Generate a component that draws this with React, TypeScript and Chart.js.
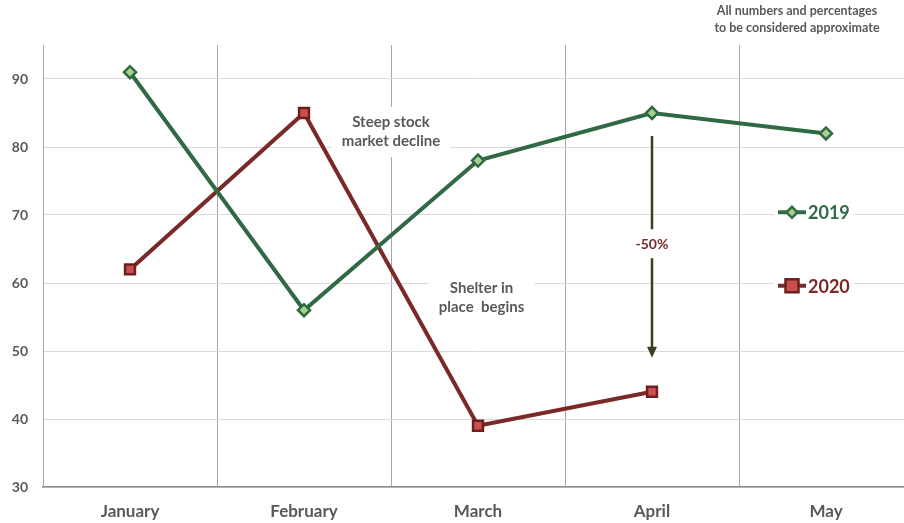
import React, { useEffect, useRef } from "react";
import { Chart, registerables } from "chart.js";

Chart.register(...registerables);

// Monthly index values
const months = ["January", "February", "March", "April", "May"];
const values2019 = [91, 56, 78, 85, 82];
const values2020: (number | null)[] = [62, 85, 39, 44, null];
const yTickValues = [30, 40, 50, 60, 70, 80, 90];

// Text shown on the chart
const seriesNames = ["2019", "2020"];
const noteSteep = ["Steep stock", "market decline"];
const noteShelter = ["Shelter in", "place  begins"];
const dropLabel = "-50%";
const disclaimer = ["All numbers and percentages", "to be considered approximate"];

const GREEN = "#2f6a45";
const GREEN_FILL = "#a9d18e";
const RED = "#7b2828";
const RED_FILL = "#c9504c";
const RED_BORDER = "#6d1f1f";
const TEXT_GRAY = "#595959";
const FONT = "Lato, 'Open Sans', sans-serif";

const CANVAS_W = 913;
const CANVAS_H = 523;

const overlayPlugin = {
  id: "overlay",
  beforeDatasetsDraw(chart: any) {
    const { ctx, scales, chartArea } = chart;
    const x = scales.x;
    const y = scales.y;

    const textBlock = (lines: string[], cx: number, cy: number, size: number, color: string, lh: number, padX: number, padY: number) => {
      ctx.save();
      ctx.font = `bold ${size}px ${FONT}`;
      const w = Math.max(...lines.map((l) => ctx.measureText(l).width));
      const h = lh * lines.length;
      ctx.fillStyle = "#ffffff";
      ctx.fillRect(cx - w / 2 - padX, cy - h / 2 - padY, w + padX * 2, h + padY * 2);
      ctx.fillStyle = color;
      ctx.textAlign = "center";
      ctx.textBaseline = "middle";
      lines.forEach((l, i) => ctx.fillText(l, cx, cy - h / 2 + lh * (i + 0.5)));
      ctx.restore();
    };

    // Event notes
    textBlock(noteSteep, x.getPixelForValue(1.5), y.getPixelForValue(82.2), 15, TEXT_GRAY, 19, 10, 6);
    textBlock(noteShelter, x.getPixelForValue(2.02), y.getPixelForValue(57.8), 15, TEXT_GRAY, 19, 10, 4);

    // Drop arrow in April, 2019 level down to 2020 level
    const ax = x.getPixelForValue(3);
    const yTop = y.getPixelForValue(values2019[3] as number) + 23;
    const yBot = y.getPixelForValue(values2020[3] as number) - 34;
    const labelY = y.getPixelForValue(65.7);
    ctx.save();
    ctx.strokeStyle = "#3d3d25";
    ctx.fillStyle = "#3d3d25";
    ctx.lineWidth = 2.5;
    ctx.beginPath();
    ctx.moveTo(ax, yTop);
    ctx.lineTo(ax, labelY - 15);
    ctx.moveTo(ax, labelY + 14);
    ctx.lineTo(ax, yBot - 10);
    ctx.stroke();
    ctx.beginPath();
    ctx.moveTo(ax - 5, yBot - 11);
    ctx.lineTo(ax + 5, yBot - 11);
    ctx.lineTo(ax, yBot);
    ctx.closePath();
    ctx.fill();
    ctx.restore();
    textBlock([dropLabel], ax, labelY, 14, RED, 16, 2, 2);

    // Legend entries on the right
    const lx = chartArea.right - 135;
    const items = [
      { name: seriesNames[0], line: GREEN, fill: GREEN_FILL, border: GREEN, style: "rectRot", r: 5.5, yv: 70.4 },
      { name: seriesNames[1], line: RED, fill: RED_FILL, border: RED_BORDER, style: "rect", r: 6.5, yv: 59.6 },
    ];
    items.forEach((it) => {
      const cy = y.getPixelForValue(it.yv);
      ctx.save();
      ctx.font = `bold 18px ${FONT}`;
      const tw = ctx.measureText(it.name).width;
      ctx.fillStyle = "#ffffff";
      ctx.fillRect(lx - 4, cy - 12, 30 + tw + 8, 24);
      ctx.strokeStyle = it.line;
      ctx.lineWidth = 4;
      ctx.beginPath();
      ctx.moveTo(lx, cy);
      ctx.lineTo(lx + 28, cy);
      ctx.stroke();
      ctx.fillStyle = it.fill;
      ctx.strokeStyle = it.border;
      ctx.lineWidth = 2.5;
      ctx.beginPath();
      if (it.style === "rectRot") {
        const c = lx + 14;
        ctx.moveTo(c, cy - it.r);
        ctx.lineTo(c + it.r, cy);
        ctx.lineTo(c, cy + it.r);
        ctx.lineTo(c - it.r, cy);
        ctx.closePath();
      } else {
        ctx.rect(lx + 14 - it.r, cy - it.r, it.r * 2, it.r * 2);
      }
      ctx.fill();
      ctx.stroke();
      ctx.fillStyle = it.line;
      ctx.textAlign = "left";
      ctx.textBaseline = "middle";
      ctx.fillText(it.name, lx + 30, cy + 1);
      ctx.restore();
    });
  },
  afterDraw(chart: any) {
    const { ctx } = chart;
    ctx.save();
    ctx.font = `bold 12.5px ${FONT}`;
    ctx.fillStyle = TEXT_GRAY;
    ctx.textAlign = "center";
    ctx.textBaseline = "middle";
    disclaimer.forEach((l, i) => ctx.fillText(l, 797, 11 + i * 17));
    ctx.restore();
  },
};

export default function App() {
  const canvasRef = useRef<HTMLCanvasElement | null>(null);

  useEffect(() => {
    if (!canvasRef.current) return;
    const chart = new Chart(canvasRef.current, {
      type: "line",
      data: {
        labels: months,
        datasets: [
          {
            label: seriesNames[0],
            data: values2019,
            borderColor: GREEN,
            borderWidth: 4,
            pointStyle: "rectRot",
            pointRadius: 6,
            pointBackgroundColor: GREEN_FILL,
            pointBorderColor: GREEN,
            pointBorderWidth: 2.5,
            tension: 0,
          },
          {
            label: seriesNames[1],
            data: values2020,
            borderColor: RED,
            borderWidth: 4,
            pointStyle: "rect",
            pointRadius: 7,
            pointBackgroundColor: RED_FILL,
            pointBorderColor: RED_BORDER,
            pointBorderWidth: 2.5,
            tension: 0,
            spanGaps: false,
          },
        ],
      },
      options: {
        animation: false,
        responsive: false,
        devicePixelRatio: 1,
        layout: { autoPadding: false, padding: { top: 45, left: 0, right: 0, bottom: 0 } },
        plugins: { legend: { display: false }, tooltip: { enabled: false } },
        scales: {
          x: {
            type: "category",
            offset: true,
            afterFit: (s: any) => {
              s.height = 36;
            },
            grid: { offset: true, color: "#a6a6a6", lineWidth: 1, drawTicks: false },
            border: { display: true, color: "#8c8c8c", width: 1.5 },
            ticks: { color: TEXT_GRAY, padding: 14, font: { family: FONT, size: 17, weight: "bold" } },
          },
          y: {
            min: 30,
            max: 95,
            afterFit: (s: any) => {
              s.width = 43;
            },
            afterBuildTicks: (s: any) => {
              s.ticks = yTickValues.map((v) => ({ value: v }));
            },
            grid: { color: "#d9d9d9", lineWidth: 1, drawTicks: false },
            border: { display: true, color: "#a6a6a6", width: 1 },
            ticks: { color: TEXT_GRAY, padding: 15, font: { family: FONT, size: 14, weight: "bold" } },
          },
        },
      },
      plugins: [overlayPlugin],
    });
    return () => chart.destroy();
  }, []);

  return (
    <div style={{ position: "fixed", left: 0, top: 0, width: CANVAS_W, height: CANVAS_H, background: "#ffffff", overflow: "hidden" }}>
      <canvas ref={canvasRef} width={CANVAS_W} height={CANVAS_H} style={{ display: "block" }} />
    </div>
  );
}
